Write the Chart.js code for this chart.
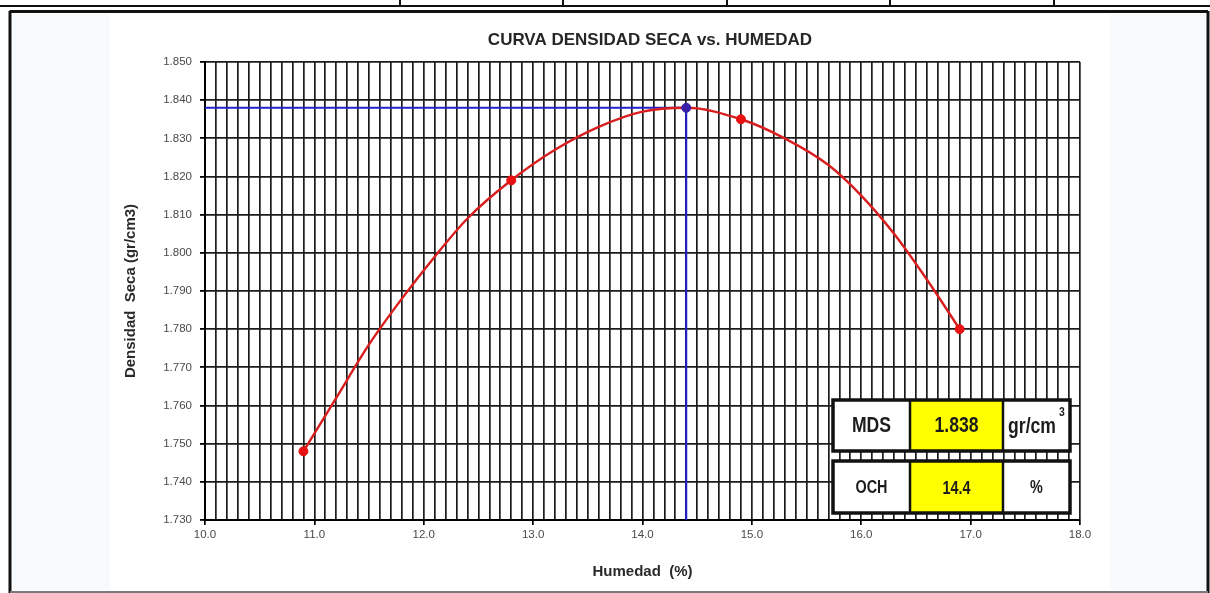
<!DOCTYPE html>
<html>
<head>
<meta charset="utf-8">
<title>Curva densidad seca vs. humedad</title>
<script src="https://cdn.jsdelivr.net/npm/chart.js@4/dist/chart.umd.min.js"></script>
<style>
  html, body { margin: 0; padding: 0; background: #ffffff; }
  #wrap { position: relative; width: 1210px; height: 593px; }
  canvas { display: block; }
</style>
</head>
<body>
<div id="wrap"><canvas id="proctor" width="1210" height="593"></canvas></div>
<script>
// Ensayo Proctor: puntos medidos
const humedad = [10.9, 12.8, 14.9, 16.9];
const densidad = [1.748, 1.819, 1.835, 1.780];

// Curva de ajuste
const curvaHumedad = [10.9, 11.2, 11.5, 11.8, 12.1, 12.4, 12.8, 13.2, 13.6, 14.0, 14.4, 14.9, 15.3, 15.7, 16.0, 16.3, 16.6, 16.9];
const curvaDensidad = [1.748, 1.762, 1.776, 1.788, 1.799, 1.809, 1.819, 1.827, 1.833, 1.837, 1.838, 1.835, 1.830, 1.823, 1.815, 1.805, 1.793, 1.780];

// Resultados: máxima densidad seca y óptimo contenido de humedad
const mds = [1.838];
const och = [14.4];

// Ejes
const ejeX = [10.0, 18.0];
const ejeY = [1.730, 1.850];

const toPoints = (xs, ys) => xs.map((x, i) => ({ x: x, y: ys[i] }));

const FONT = "'Liberation Sans', Arial, Helvetica, sans-serif";

// Marco de la hoja, franjas laterales y título
const sheetPlugin = {
  id: 'sheet',
  beforeDraw(chart) {
    const c = chart.ctx;
    c.save();
    c.fillStyle = '#ffffff';
    c.fillRect(0, 0, chart.width, chart.height);
    // franjas laterales tenues
    c.fillStyle = 'rgba(220,230,242,0.22)';
    c.fillRect(13, 14, 97, 576);
    c.fillRect(1110, 14, 97, 576);
    // fila superior de la tabla
    c.strokeStyle = '#111';
    c.lineWidth = 2;
    c.beginPath();
    c.moveTo(0, 6); c.lineTo(1210, 6);
    [400, 563, 727, 890, 1054].forEach(x => { c.moveTo(x, 0); c.lineTo(x, 6); });
    c.stroke();
    // marco del gráfico
    c.lineWidth = 3;
    c.beginPath();
    c.moveTo(9.5, 11.5); c.lineTo(1208, 11.5);
    c.moveTo(10, 11); c.lineTo(10, 593);
    c.moveTo(1208, 11); c.lineTo(1208, 593);
    c.stroke();
    c.strokeStyle = '#7a7a7a';
    c.lineWidth = 2;
    c.beginPath();
    c.moveTo(10, 592); c.lineTo(1208, 592);
    c.stroke();
    // título
    c.fillStyle = '#262626';
    c.font = 'bold 17px ' + FONT;
    c.textAlign = 'center';
    c.textBaseline = 'middle';
    c.fillText('CURVA DENSIDAD SECA vs. HUMEDAD', 650, 40);
    c.restore();
  }
};

// Cuadro de resultados MDS / OCH
const resultPlugin = {
  id: 'results',
  afterDraw(chart) {
    const c = chart.ctx;
    const cols = [833, 910, 1003, 1070];
    const rows = [[400, 451], [461, 513]];
    const condensed = (txt, x, y, size) => {
      c.save();
      c.translate(x, y);
      c.scale(0.8, 1);
      c.font = 'bold ' + size + 'px ' + FONT;
      c.textAlign = 'center';
      c.textBaseline = 'middle';
      c.fillText(txt, 0, 0);
      c.restore();
    };
    c.save();
    rows.forEach(([top, bot]) => {
      c.fillStyle = '#ffffff';
      c.fillRect(cols[0], top, cols[3] - cols[0], bot - top);
      c.fillStyle = '#ffff00';
      c.fillRect(cols[1], top, cols[2] - cols[1], bot - top);
      c.strokeStyle = '#111';
      c.lineWidth = 2.5;
      c.beginPath();
      c.moveTo(cols[1], top); c.lineTo(cols[1], bot);
      c.moveTo(cols[2], top); c.lineTo(cols[2], bot);
      c.stroke();
      c.lineWidth = 3.5;
      c.strokeRect(cols[0], top, cols[3] - cols[0], bot - top);
    });
    c.fillStyle = '#1c1c1c';
    const y1 = 426, y2 = 488;
    condensed('MDS', (cols[0] + cols[1]) / 2, y1, 22);
    condensed(mds[0].toFixed(3), (cols[1] + cols[2]) / 2, y1, 22);
    condensed('gr/cm', 1032, y1 + 1, 22);
    condensed('3', 1062, 412, 13);
    condensed('OCH', (cols[0] + cols[1]) / 2, y2, 18);
    condensed(och[0].toFixed(1), (cols[1] + cols[2]) / 2, y2 + 1, 18);
    condensed('%', (cols[2] + cols[3]) / 2, y2, 18);
    c.restore();
  }
};

const isWhole = v => Math.abs(v - Math.round(v)) < 1e-6;

new Chart(document.getElementById('proctor'), {
  type: 'scatter',
  data: {
    datasets: [
      {
        label: 'Óptimo',
        data: [{ x: ejeX[0], y: mds[0] }, { x: och[0], y: mds[0] }, { x: och[0], y: ejeY[0] }],
        showLine: true,
        borderColor: '#2222cc',
        borderWidth: 2,
        pointRadius: 0,
        tension: 0,
        order: 3
      },
      {
        label: 'Curva',
        data: toPoints(curvaHumedad, curvaDensidad),
        showLine: true,
        borderColor: '#d81e1e',
        borderWidth: 2.4,
        pointRadius: 0,
        cubicInterpolationMode: 'monotone',
        order: 2
      },
      {
        label: 'Ensayos',
        data: toPoints(humedad, densidad),
        showLine: false,
        pointRadius: 4.5,
        pointBackgroundColor: '#e81010',
        pointBorderColor: '#e81010',
        order: 1
      },
      {
        label: 'Máximo',
        data: toPoints(och, mds),
        showLine: false,
        pointRadius: 4.5,
        pointBackgroundColor: '#3a1fa8',
        pointBorderColor: '#3a1fa8',
        order: 0
      }
    ]
  },
  options: {
    responsive: false,
    animation: false,
    devicePixelRatio: 1,
    layout: { padding: { left: 118, right: 130, top: 62, bottom: 8 } },
    plugins: {
      legend: { display: false },
      tooltip: { enabled: false }
    },
    scales: {
      x: {
        type: 'linear',
        min: ejeX[0],
        max: ejeX[1],
        afterFit: s => { s.height = 65; },
        border: { color: '#000', width: 2 },
        grid: {
          color: '#1c1c1c',
          lineWidth: 1.7,
          tickLength: 5,
          tickColor: ctx => (ctx.tick && isWhole(ctx.tick.value)) ? '#000' : 'rgba(0,0,0,0)'
        },
        ticks: {
          stepSize: 0.1,
          autoSkip: false,
          maxRotation: 0,
          minRotation: 0,
          padding: 3,
          color: '#4a4a4a',
          font: { family: FONT, size: 11.5 },
          callback: v => isWhole(v) ? Number(v).toFixed(1) : ''
        },
        title: {
          display: true,
          text: 'Humedad  (%)',
          color: '#2a2a2a',
          font: { family: FONT, size: 15, weight: 'bold' },
          padding: { top: 4, bottom: 4 }
        }
      },
      y: {
        type: 'linear',
        min: ejeY[0],
        max: ejeY[1],
        afterFit: s => { s.width = 87; },
        border: { color: '#000', width: 2 },
        grid: {
          color: '#1c1c1c',
          lineWidth: 1.8,
          tickLength: 5,
          tickColor: '#000'
        },
        ticks: {
          stepSize: 0.01,
          padding: 8,
          color: '#4a4a4a',
          font: { family: FONT, size: 11.5 },
          callback: v => Number(v).toFixed(3)
        },
        title: {
          display: true,
          text: 'Densidad  Seca (gr/cm3)',
          color: '#2a2a2a',
          font: { family: FONT, size: 15, weight: 'bold' },
          padding: { top: 4, bottom: 4 }
        }
      }
    }
  },
  plugins: [sheetPlugin, resultPlugin]
});
</script>
</body>
</html>
